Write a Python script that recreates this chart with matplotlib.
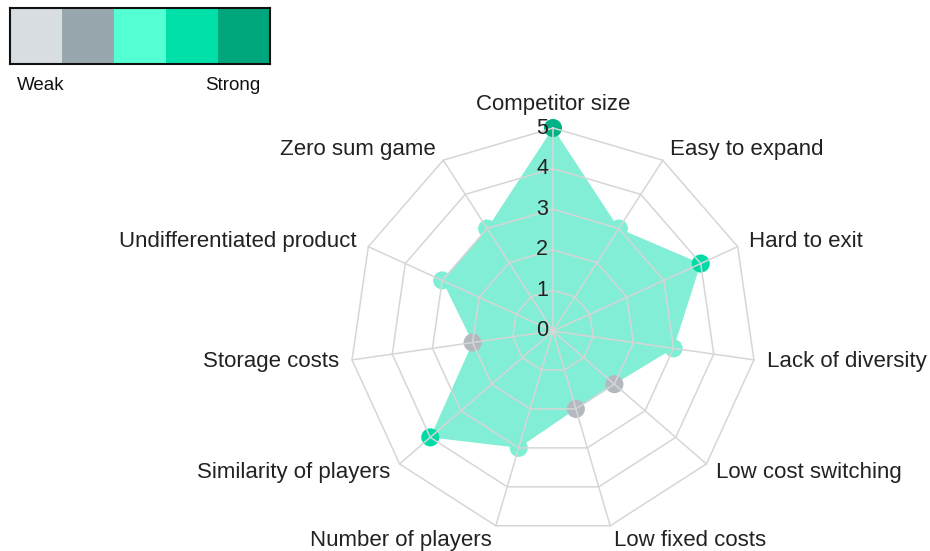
import numpy as np
import matplotlib
matplotlib.use("Agg")
import matplotlib.pyplot as plt

plt.rcParams['font.family'] = ['Liberation Sans', 'DejaVu Sans']

categories = ["Competitor size", "Easy to expand", "Hard to exit", "Lack of diversity",
              "Low cost switching", "Low fixed costs", "Number of players",
              "Similarity of players", "Storage costs", "Undifferentiated product",
              "Zero sum game"]
values = [5, 3, 4, 3, 2, 2, 3, 4, 2, 3, 3]
ticks = [0, 1, 2, 3, 4, 5]

scale_colors = ["#d7dde1", "#98a6ad", "#55ffd4", "#00e0a8", "#00a67c"]
# marker colour for each score
point_colors = {2: "#b4b9c0", 3: "#7eefd4", 4: "#00dba5", 5: "#00b386"}
fill_color = "#82eed5"
grid_color = "#d6d6d6"
text_color = "#222222"

fig = plt.figure(figsize=(9.3, 5.51), dpi=100)

# radar
W, H = 930, 551
cx, cy, R = 553, 331, 203
ax = fig.add_axes([(cx - R) / W, (H - cy - R) / H, 2 * R / W, 2 * R / H], projection="polar")
ax.set_theta_offset(np.pi / 2)
ax.set_theta_direction(-1)
ax.set_ylim(0, 5)
ax.grid(False)
ax.spines["polar"].set_visible(False)
ax.set_xticks([])
ax.set_yticks([])
ax.patch.set_alpha(0)

n = len(categories)
angles = np.linspace(0, 2 * np.pi, n, endpoint=False)
ang_c = np.append(angles, angles[0])
val_c = np.append(values, values[0])

ax.fill(ang_c, val_c, color=fill_color, lw=0, zorder=1)
ax.scatter(angles, values, s=170, c=[point_colors[v] for v in values], lw=0,
           zorder=2, clip_on=False)

for r in ticks[1:]:
    ax.plot(ang_c, [r] * (n + 1), color=grid_color, lw=1.1, zorder=3, clip_on=False)
for a in angles:
    ax.plot([a, a], [0, 5], color=grid_color, lw=1.1, zorder=3, clip_on=False)

for t in ticks:
    ax.annotate(str(t), xy=(0, t), xytext=(-5, 0), textcoords="offset pixels",
                ha="right", va="center", fontsize=15.5, color=text_color, zorder=4)

for a, lab in zip(angles, categories):
    # screen direction of the spoke
    ux, uy = np.sin(a), np.cos(a)
    if abs(ux) < 0.01:
        ha, va = "center", "bottom"
    else:
        ha, va = ("left" if ux > 0 else "right"), "center"
    ax.annotate(lab, xy=(a, 5), xytext=(13 * ux, 13 * uy - 2 * (uy < -0.9)),
                textcoords="offset pixels",
                ha=ha, va=va, fontsize=16, color=text_color, annotation_clip=False)

# colour scale box
lax = fig.add_axes([10 / W, (H - 64) / H, 260 / W, 56 / H])
lax.bar(range(5), [1] * 5, width=1, color=scale_colors, lw=0)
lax.set_xlim(-0.5, 4.5)
lax.set_ylim(0, 1)
lax.set_xticks([])
lax.set_yticks([])
for s in lax.spines.values():
    s.set_linewidth(1.5)
    s.set_color("#111111")
fig.text(17 / W, 1 - 86 / H, "Weak", ha="left", va="center", fontsize=13.5, color="#111111")
fig.text(260 / W, 1 - 86 / H, "Strong", ha="right", va="center", fontsize=13.5, color="#111111")

fig.savefig("out.png", dpi=100)
